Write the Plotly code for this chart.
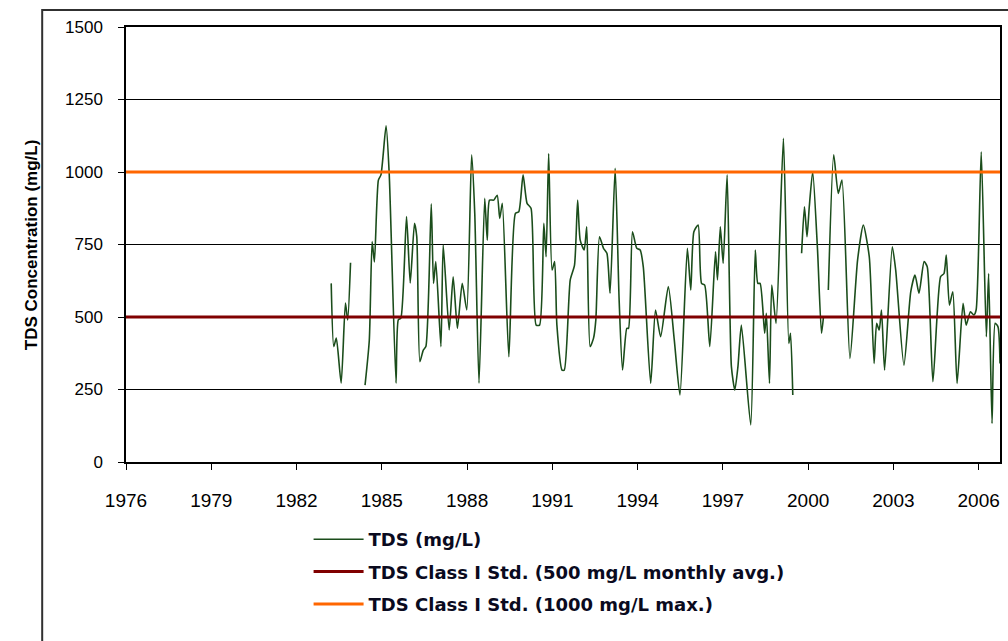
import plotly.graph_objects as go

# Decimal year / TDS (mg/L) readings; None marks gaps in the record
years = [
    1983.22, 1983.31, 1983.40, 1983.57, 1983.72, 1983.80, 1983.90, None,
    1984.41, 1984.56, 1984.66, 1984.74, 1984.88, 1984.97, 1985.15, 1985.26,
    1985.50, 1985.58, 1985.67, 1985.87, 1986.00, 1986.15, 1986.23, 1986.34,
    1986.46, 1986.55, 1986.74, 1986.82, 1986.90, 1987.08, 1987.16, 1987.37,
    1987.51, 1987.66, 1987.83, 1987.99, 1988.16, 1988.27, 1988.42, 1988.62,
    1988.71, 1988.79, 1988.94, 1989.06, 1989.15, 1989.24, 1989.47, 1989.70,
    1989.82, 1989.97, 1990.11, 1990.25, 1990.43, 1990.55, 1990.70, 1990.78,
    1990.87, 1990.99, 1991.08, 1991.16, 1991.34, 1991.42, 1991.63, 1991.78,
    1991.89, 1991.98, 1992.12, 1992.21, 1992.33, 1992.45, 1992.53, 1992.66,
    1992.80, 1992.92, 1993.03, 1993.21, 1993.35, 1993.47, 1993.62, 1993.68,
    1993.82, 1993.97, 1994.09, 1994.20, 1994.46, 1994.63, 1994.81, 1995.08,
    1995.29, 1995.49, 1995.75, 1995.87, 1995.98, 1996.13, 1996.25, 1996.36,
    1996.54, 1996.74, 1996.81, 1996.91, 1997.01, 1997.15, 1997.30, 1997.42,
    1997.53, 1997.65, 1997.98, 1998.14, 1998.23, 1998.31, 1998.47, 1998.53,
    1998.64, 1998.72, 1998.87, 1999.13, 1999.32, 1999.38, 1999.46, None,
    1999.77, 1999.87, 1999.96, 2000.04, 2000.16, 2000.33, 2000.47, 2000.54, None,
    2000.71, 2000.90, 2001.06, 2001.19, 2001.47, 2001.74, 2001.94, 2002.15,
    2002.32, 2002.41, 2002.50, 2002.58, 2002.69, 2002.96, 2003.08, 2003.37,
    2003.61, 2003.76, 2003.90, 2004.08, 2004.19, 2004.39, 2004.66, 2004.78,
    2004.86, 2004.97, 2005.09, 2005.24, 2005.45, 2005.56, 2005.71, 2005.83,
    2005.91, 2006.09, 2006.27, 2006.35, 2006.47, 2006.58, 2006.68, 2006.75,
]
tds = [
    616, 398, 427, 272, 548, 490, 687, None,
    265, 420, 760, 690, 972, 990, 1159, 996,
    272, 490, 496, 846, 617, 823, 777, 346,
    386, 398, 890, 616, 691, 398, 748, 455,
    639, 461, 616, 524, 1059, 858, 272, 909,
    765, 903, 903, 920, 840, 892, 363, 857,
    863, 990, 892, 875, 472, 472, 823, 708,
    1064, 662, 691, 472, 317, 317, 628, 679,
    903, 765, 731, 811, 398, 427, 490, 777,
    737, 720, 582, 1013, 559, 317, 461, 461,
    794, 737, 731, 673, 271, 524, 432, 605,
    421, 231, 737, 593, 794, 817, 616, 610,
    398, 725, 628, 811, 685, 990, 329, 248,
    329, 472, 128, 731, 616, 616, 444, 513,
    271, 610, 478, 1116, 409, 444, 231, None,
    720, 880, 777, 880, 1001, 731, 444, 501, None,
    593, 1059, 926, 972, 357, 697, 817, 708,
    340, 478, 455, 524, 317, 742, 662, 334,
    587, 645, 582, 691, 673, 277, 639, 650,
    714, 541, 587, 271, 547, 472, 518, 507,
    524, 1070, 432, 650, 133, 478, 466, 340,
]

std_monthly = 500
std_max = 1000
x_range = [1976, 2006.75]
x_ticks = [1976, 1979, 1982, 1985, 1988, 1991, 1994, 1997, 2000, 2003, 2006]
y_ticks = [0, 250, 500, 750, 1000, 1250, 1500]

names = ["TDS (mg/L)",
         "TDS Class I Std. (500 mg/L monthly avg.)",
         "TDS Class I Std. (1000 mg/L max.)"]

FONT = "Liberation Sans, Arial, sans-serif"
WIDE = "DejaVu Sans, Liberation Sans, sans-serif"

fig = go.Figure()
fig.add_trace(go.Scatter(x=years, y=tds, mode="lines", name=names[0],
                         line=dict(color="#1b4d1b", width=1.6, shape="spline", smoothing=0.6),
                         connectgaps=False, legendgroup="a"))
fig.add_trace(go.Scatter(x=x_range, y=[std_monthly, std_monthly], mode="lines",
                         name=names[1], line=dict(color="#800000", width=3),
                         legendgroup="b"))
fig.add_trace(go.Scatter(x=x_range, y=[std_max, std_max], mode="lines",
                         name=names[2], line=dict(color="#FF6600", width=3),
                         legendgroup="c"))

W, H = 1008, 641
ml, mr, mt, mb = 126, 6, 27, 179
pw, ph = W - ml - mr, H - mt - mb

fig.update_layout(
    width=W, height=H,
    margin=dict(l=ml, r=mr, t=mt, b=mb),
    paper_bgcolor="white", plot_bgcolor="white",
    font=dict(family=FONT, color="#000000", size=15),
    showlegend=True,
    legend=dict(x=(309 - ml) / pw, y=-(521 - 462) / ph, xanchor="left", yanchor="top",
                bgcolor="rgba(0,0,0,0)", traceorder="grouped", tracegroupgap=6,
                font=dict(size=18, family=WIDE, color="#0a0a1e", weight="bold"),
                itemwidth=50),
    xaxis=dict(range=x_range, tickvals=x_ticks, ticks="outside", ticklen=6,
               tickcolor="#000", showline=True, linecolor="#000", linewidth=1.5,
               mirror=True, showgrid=False, zeroline=False,
               ticklabelstandoff=14, tickfont=dict(size=19)),
    yaxis=dict(range=[0, 1500], tickvals=y_ticks, ticks="outside", ticklen=6,
               tickcolor="#000", showline=True, linecolor="#000", linewidth=1.5,
               mirror=True, showgrid=True, gridcolor="#000", gridwidth=1,
               zeroline=False, ticklabelstandoff=12, tickfont=dict(size=17)),
    annotations=[dict(text="<b>TDS Concentration (mg/L)</b>", textangle=-90,
                      xref="paper", yref="paper", x=(20 - ml) / pw, y=0.5,
                      showarrow=False, font=dict(size=17, color="#000"))],
    shapes=[dict(type="rect", xref="paper", yref="paper",
                 x0=(42 - ml) / pw, x1=(1015 - ml) / pw,
                 y0=-(660 - 462) / ph, y1=1 + (mt - 10) / ph,
                 line=dict(color="#303030", width=2), layer="below")],
)

fig.write_html("out.html", config={"displayModeBar": False},
               post_script="document.body.style.margin='0';document.body.style.overflow='hidden';")
